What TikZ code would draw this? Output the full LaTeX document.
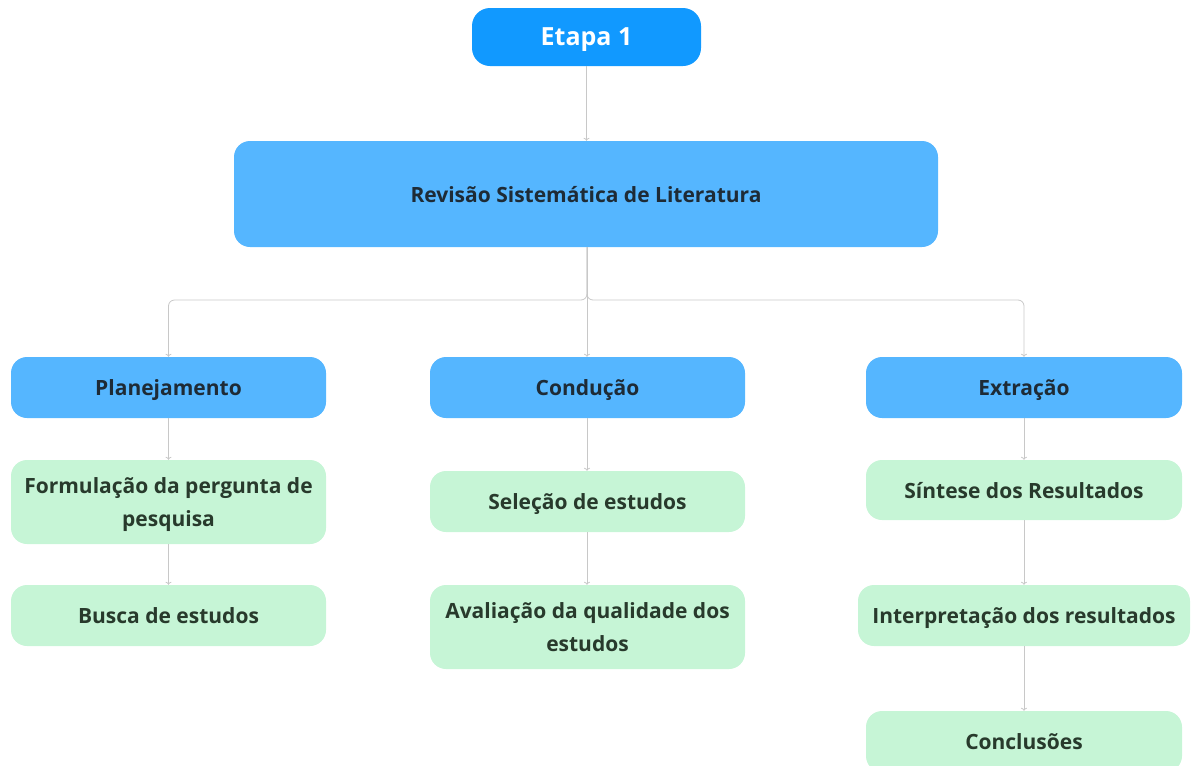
\documentclass[tikz,border=0pt]{standalone}
\usepackage{fontspec}
\setmainfont{Open Sans}
\usetikzlibrary{arrows.meta}
\definecolor{topblue}{HTML}{1199FF}
\definecolor{lblue}{HTML}{55B6FF}
\definecolor{lgreen}{HTML}{C6F5D6}
\definecolor{dtext}{HTML}{1E2B36}
\definecolor{gtext}{HTML}{283A2C}
\definecolor{conn}{HTML}{C8C8C8}
\begin{document}
\begin{tikzpicture}[x=1pt,y=-1pt,
  box/.style={rounded corners=16pt, inner sep=0pt, align=center, text depth=0pt, font=\fontsize{21}{33}\selectfont\bfseries},
  bluebox/.style={box, fill=lblue, text=dtext},
  greenbox/.style={box, fill=lgreen, text=gtext},
  conn/.style={draw=conn, line width=0.8pt, -{To[length=3pt,width=6pt]}}]
\useasboundingbox (0,0) rectangle (1192,766);
\node[box, fill=topblue, text=white, minimum width=229pt, minimum height=58pt, rounded corners=18pt, font=\fontsize{25}{30}\selectfont\bfseries] (etapa) at (586.5,37) {Etapa 1};
\node[bluebox, minimum width=704pt, minimum height=106pt] (rev) at (586,194) {Revisão Sistemática de Literatura};
\node[bluebox, minimum width=315pt, minimum height=61pt] (plan) at (168.5,387.5) {Planejamento};
\node[bluebox, minimum width=315pt, minimum height=61pt] (cond) at (587.5,387.5) {Condução};
\node[bluebox, minimum width=316pt, minimum height=61pt] (extr) at (1024,387.5) {Extração};
\node[greenbox, minimum width=315pt, minimum height=84pt] (form) at (168.5,502) {Formulação da pergunta de\\pesquisa};
\node[greenbox, minimum width=315pt, minimum height=61pt] (busca) at (168.5,615.5) {Busca de estudos};
\node[greenbox, minimum width=315pt, minimum height=61pt] (sel) at (587.5,501.5) {Seleção de estudos};
\node[greenbox, minimum width=315pt, minimum height=84pt] (aval) at (587.5,627) {Avaliação da qualidade dos\\estudos};
\node[greenbox, minimum width=316pt, minimum height=60pt] (sint) at (1024,490) {Síntese dos Resultados};
\node[greenbox, minimum width=332pt, minimum height=61pt] (interp) at (1024,615.5) {Interpretação dos resultados};
\node[greenbox, minimum width=316pt, minimum height=61pt] (concl) at (1024,741.5) {Conclusões};
\coordinate (bus) at (587,300);
\draw[conn] (etapa) -- (etapa.south |- rev.north);
\draw[conn] (rev.south -| bus) -- (cond.north -| bus);
\draw[conn, rounded corners=6pt] (rev.south -| bus) -- (bus) -| (plan.north);
\draw[conn, rounded corners=6pt] (rev.south -| bus) -- (bus) -| (extr.north);
\draw[conn] (plan) -- (form);
\draw[conn] (form) -- (busca);
\draw[conn] (cond.south -| bus) -- (sel.north -| bus);
\draw[conn] (sel.south -| bus) -- (aval.north -| bus);
\draw[conn] (extr) -- (sint);
\draw[conn] (sint) -- (interp);
\draw[conn] (interp) -- (concl);
\end{tikzpicture}
\end{document}
